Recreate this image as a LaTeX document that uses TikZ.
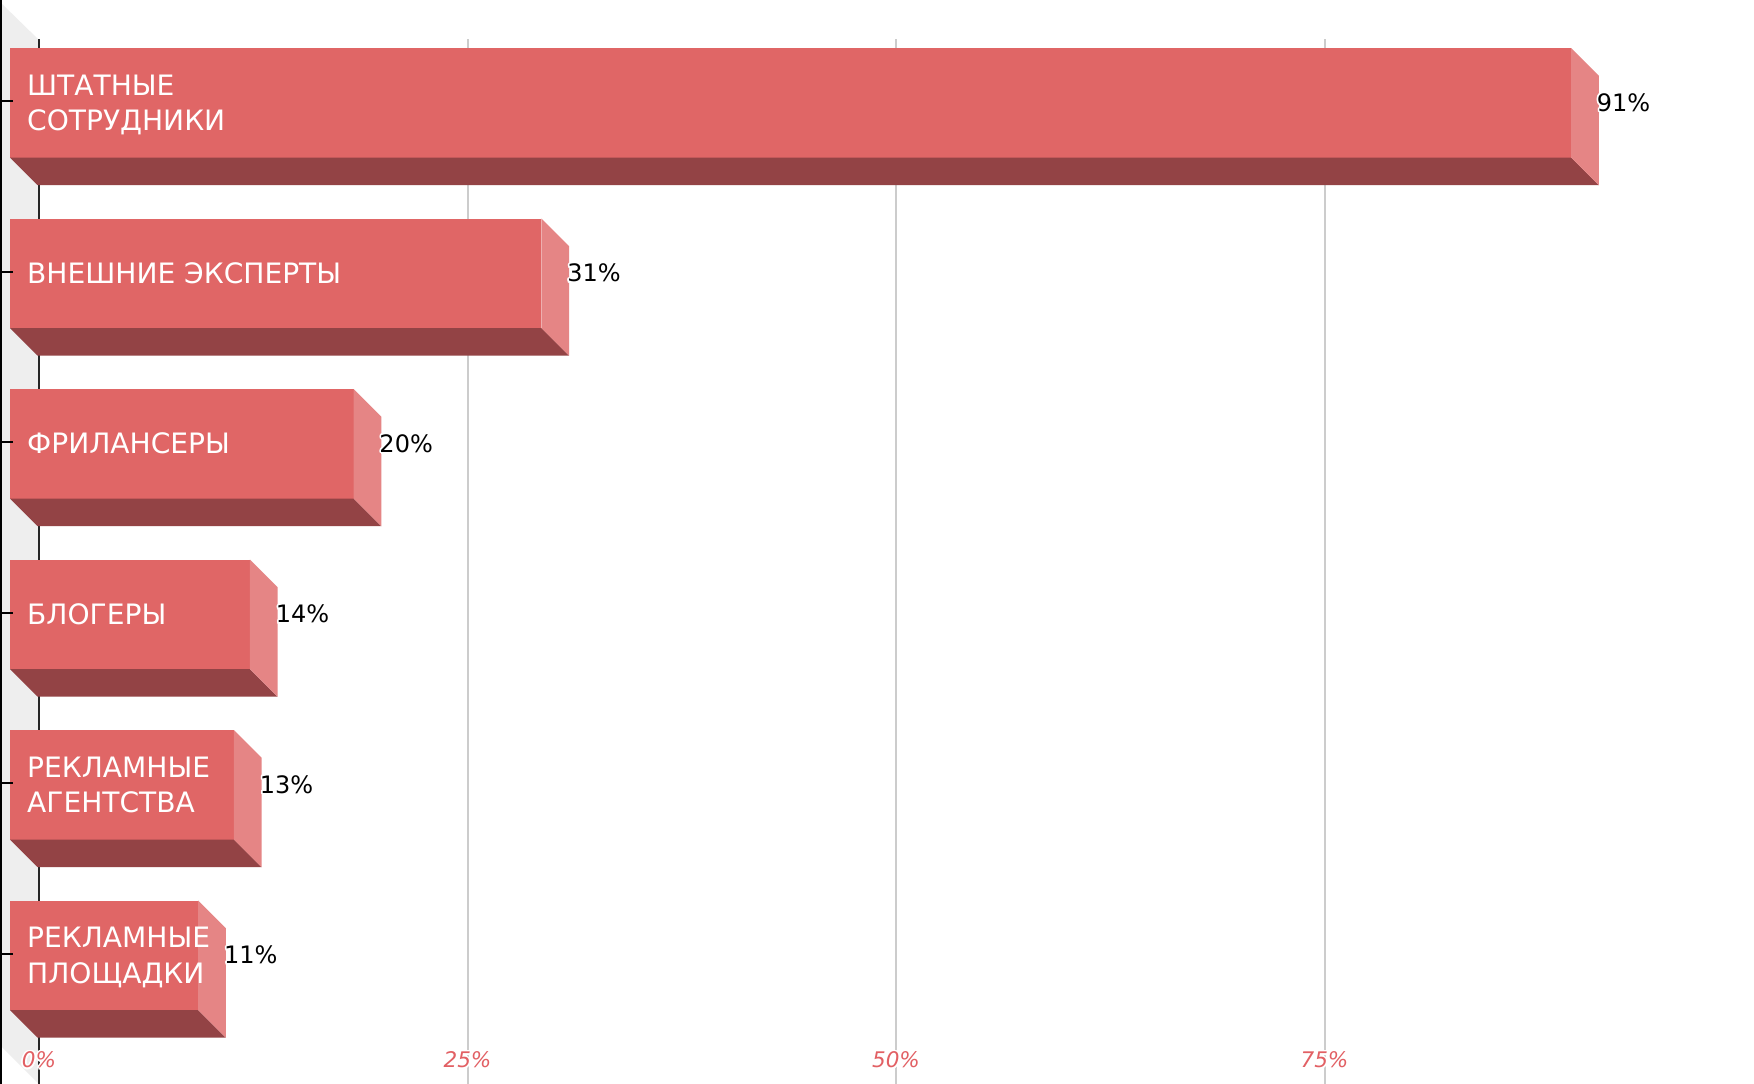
\documentclass[tikz,border=0pt]{standalone}
\usepackage{fontspec}
\setmainfont{DejaVu Sans}
\usepackage[copies]{contour}
\contourlength{1.6pt}
\contournumber{16}
\definecolor{barfront}{RGB}{224,102,102}
\definecolor{barbottom}{RGB}{147,67,69}
\definecolor{barside}{RGB}{229,133,133}
\definecolor{wallgray}{RGB}{238,238,238}
\definecolor{gridgray}{RGB}{204,204,204}
\definecolor{axisred}{RGB}{226,96,100}
\tikzset{
  catlabel/.style={anchor=base west, inner sep=0pt, text=white, align=left,
    font=\fontsize{28.1pt}{35.7pt}\selectfont},
  pctlabel/.style={anchor=base west, inner sep=0pt, text=black,
    font=\fontsize{24pt}{28pt}\selectfont},
  axlabel/.style={anchor=base, inner sep=0pt, text=axisred,
    font=\fontsize{21.5pt}{24pt}\selectfont\itshape},
  gridline/.style={gridgray, line width=2pt},
  tickline/.style={black, line width=2pt}
}
\begin{document}
\begin{tikzpicture}[x=1pt,y=-1pt]
\useasboundingbox (0,0) rectangle (1754,1084);
\fill[white] (0,0) rectangle (1754,1084);
% back wall
\fill[wallgray] (2,4) -- (39,40) -- (39,1084) -- (2,1047) -- cycle;
\draw[black, line width=2pt] (1,0) -- (1,1084);
% grid lines
\foreach \p in {25,50,75}{
  \draw[gridline] ({39+17.14*\p},39) -- ({39+17.14*\p},1084);
}
\draw[black!85, line width=2.5pt] (39,39) -- (39,1084);
% bars
\foreach \i/\v in {0/91, 1/30.93, 2/19.97, 3/13.92, 4/12.99, 5/10.9}{
  \pgfmathsetmacro\T{48+170.5*\i}
  \pgfmathsetmacro\B{\T+109.5}
  \pgfmathsetmacro\C{\T+54.75}
  \pgfmathsetmacro\X{39+17.14*\v}
  \pgfmathsetmacro\F{\X-27.7}
  \fill[barfront] (10,\T) rectangle (\F,\B);
  \fill[barbottom] (10,\B) -- (\F,\B) -- (\X,\B+27.7) -- (37.7,\B+27.7) -- cycle;
  \fill[barside] (\F,\T) -- (\X,\T+27.7) -- (\X,\B+27.7) -- (\F,\B) -- cycle;
  \draw[tickline] (0,\C-1.5) -- (13,\C-1.5);
}
% category labels (base = baseline of the last line)
\node[catlabel] (l0) at (27,{48+54.75+27.95}) {ШТАТНЫЕ\\СОТРУДНИКИ};
\node[catlabel] (l1) at (27,{48+170.5+54.75+10.2}) {ВНЕШНИЕ ЭКСПЕРТЫ};
\node[catlabel] (l2) at (27,{48+2*170.5+54.75+10.2}) {ФРИЛАНСЕРЫ};
\node[catlabel] (l3) at (27,{48+3*170.5+54.75+10.2}) {БЛОГЕРЫ};
\node[catlabel] (l4) at (27,{48+4*170.5+54.75+27.95}) {РЕКЛАМНЫЕ\\АГЕНТСТВА};
\node[catlabel] (l5) at (27,{48+5*170.5+54.75+27.95}) {РЕКЛАМНЫЕ\\ПЛОЩАДКИ};
% value labels
\node[pctlabel] (p0) at ({39+17.14*91-2},{48+54.75+8.7}) {\contour{white}{91\%}};
\node[pctlabel] (p1) at ({39+17.14*30.93-2},{48+170.5+54.75+8.7}) {\contour{white}{31\%}};
\node[pctlabel] (p2) at ({39+17.14*19.97-2},{48+2*170.5+54.75+8.7}) {\contour{white}{20\%}};
\node[pctlabel] (p3) at ({39+17.14*13.92-2},{48+3*170.5+54.75+8.7}) {\contour{white}{14\%}};
\node[pctlabel] (p4) at ({39+17.14*12.99-2},{48+4*170.5+54.75+8.7}) {\contour{white}{13\%}};
\node[pctlabel] (p5) at ({39+17.14*10.9-2},{48+5*170.5+54.75+8.7}) {\contour{white}{11\%}};
% axis labels
\node[axlabel] (a0) at (39,1067.8) {\contour{white}{0\%}};
\node[axlabel] (a25) at ({39+17.14*25},1067.8) {\contour{white}{25\%}};
\node[axlabel] (a50) at ({39+17.14*50},1067.8) {\contour{white}{50\%}};
\node[axlabel] (a75) at ({39+17.14*75},1067.8) {\contour{white}{75\%}};
\end{tikzpicture}
\end{document}
